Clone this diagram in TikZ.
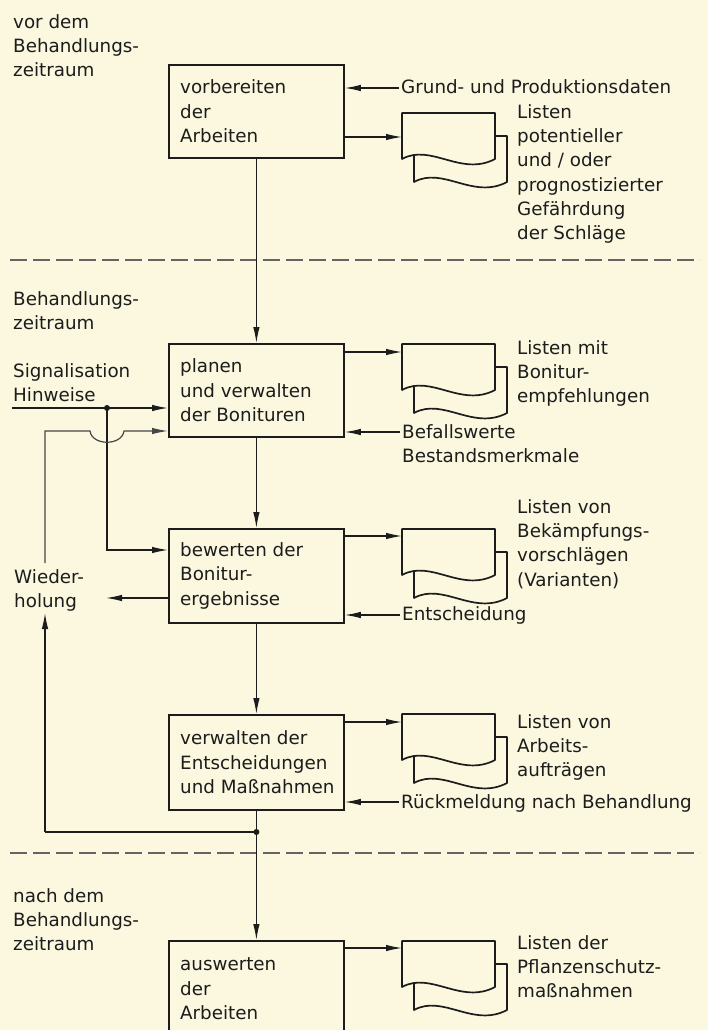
\documentclass[tikz,border=0pt]{standalone}
\usepackage{fontspec}
\setmainfont{DejaVu Sans}
\usetikzlibrary{arrows.meta}
\definecolor{bg}{RGB}{251,248,223}
\definecolor{ink}{RGB}{28,28,28}
\definecolor{inkl}{RGB}{70,70,70}
\definecolor{dashc}{RGB}{100,100,100}
\newcommand\diafont{\fontsize{18.3pt}{24.3pt}\selectfont}
\newcommand\docsym[2]{%
  \path[docsheet] (414,#2+23) -- (507,#2+23) -- (507,#2+69)
     .. controls (473,#2+87) and (443,#2+53) .. (414,#2+69) -- cycle;
  \path[docsheet] (402,#2) -- (495,#2) -- (495,#2+46)
     .. controls (461,#2+64) and (431,#2+30) .. (402,#2+46) -- cycle;
  \node[docnode] (#1) at (402,#2) {};
}
\begin{document}
\begin{tikzpicture}[x=1pt,y=-1pt,
  proc/.style={draw=ink, line width=1.8pt, minimum width=175pt, minimum height=93pt,
    inner sep=0pt, anchor=north west},
  lbl/.style={inner sep=0pt, align=left, font=\diafont, text=ink},
  conn/.style={draw=ink, line width=1.2pt},
  arr/.style={conn, -{Latex[length=16pt,width=6.5pt]}},
  sepline/.style={draw=dashc, line width=1.4pt, dash pattern=on 17pt off 6pt},
  docsheet/.style={draw=ink, line width=1.7pt, fill=bg, line join=round},
  docnode/.style={minimum width=93pt, minimum height=46pt, inner sep=0pt, outer sep=0pt, anchor=north west},
  dot/.style={circle, fill=ink, inner sep=0pt, minimum size=6pt}
]
\useasboundingbox (0,0) rectangle (708,1030);
\clip (0,0) rectangle (708,1030);
\fill[bg] (0,0) rectangle (708,1030);

% separators
\coordinate (s1a) at (10,260); \coordinate (s1b) at (700,260);
\coordinate (s2a) at (10,853); \coordinate (s2b) at (700,853);
\draw[sepline] (s1a) -- (s1b);
\draw[sepline] (s2a) -- (s2b);

% phase labels
\node[lbl, anchor=north west] (pvor) at (13,14) {vor dem\\Behandlungs-\\zeitraum};
\node[lbl, anchor=north west] (pbeh) at (13,291) {Behandlungs-\\zeitraum};
\node[lbl, anchor=north west] (pnach) at (13,888) {nach dem\\Behandlungs-\\zeitraum};

% boxes
\node[proc] (b1) at (168,64) {};
\node[proc] (b2) at (168,343) {};
\node[proc, minimum height=94pt] (b3) at (168,528) {};
\node[proc, minimum height=95pt] (b4) at (168,714) {};
\node[proc, minimum height=96pt] (b5) at (168,940) {};
\node[lbl, anchor=west] (b1t) at ([xshift=12pt]b1.west) {vorbereiten\\der\\Arbeiten};
\node[lbl, anchor=west] (b2t) at ([xshift=12pt]b2.west) {planen\\und verwalten\\der Bonituren};
\node[lbl, anchor=west] (b3t) at ([xshift=12pt]b3.west) {bewerten der\\Bonitur-\\ergebnisse};
\node[lbl, anchor=west] (b4t) at ([xshift=12pt]b4.west) {verwalten der\\Entscheidungen\\und Maßnahmen};
\node[lbl, anchor=west] (b5t) at ([xshift=12pt]b5.west) {auswerten\\der\\Arbeiten};

% documents
\docsym{d1}{113}
\docsym{d2}{344}
\docsym{d3}{529}
\docsym{d4}{714}
\docsym{d5}{941}

% document texts
\node[lbl, anchor=north west] (t1) at (517,104) {Listen\\potentieller\\und / oder\\prognostizierter\\Gefährdung\\der Schläge};
\node[lbl, anchor=north west] (t2) at (517,340) {Listen mit\\Bonitur-\\empfehlungen};
\node[lbl, anchor=north west] (t3) at (517,499) {Listen von\\Bekämpfungs-\\vorschlägen\\(Varianten)};
\node[lbl, anchor=north west] (t4) at (517,714) {Listen von\\Arbeits-\\aufträgen};
\node[lbl, anchor=north west] (t5) at (517,935) {Listen der\\Pflanzenschutz-\\maßnahmen};

% inputs
\node[lbl, anchor=base west] (grund) at (401,94) {Grund- und Produktionsdaten};
\node[lbl, anchor=north west] (bef) at (402,424) {Befallswerte\\Bestandsmerkmale};
\node[lbl, anchor=base west] (ent) at (402,620) {Entscheidung};
\node[lbl, anchor=base west] (rueck) at (401,808) {Rückmeldung nach Behandlung};
\node[lbl, anchor=north west] (sig) at (13,363) {Signalisation\\Hinweise};
\node[lbl, anchor=north west] (wied) at (14,569) {Wieder-\\holung};

% main flow
\draw[arr] (b1.south) -- (b2.north);
\draw[arr] (b2.south) -- (b3.north);
\draw[arr] (b3.south) -- (b4.north);
\node[dot] (j2) at (b4.south |- 0,832) {};
\draw[conn] (b4.south) -- (j2.center);
\draw[arr] (j2.center) -- (b5.north);

% outputs to documents
\draw[arr] (b1.east |- 0,137) -- (d1.west |- 0,137);
\draw[arr] (b2.east |- 0,352) -- (d2.west |- 0,352);
\draw[arr] (b3.east |- 0,536) -- (d3.west |- 0,536);
\draw[arr] (b4.east |- 0,722) -- (d4.west |- 0,722);
\draw[arr] (b5.east |- 0,948) -- (d5.west |- 0,948);

% inputs into boxes
\draw[arr] ([xshift=-2pt]grund.west |- 0,88) -- (b1.east |- 0,88);
\draw[arr] ([xshift=-2pt]bef.west |- 0,432) -- (b2.east |- 0,432);
\draw[arr] ([xshift=-2pt]ent.west |- 0,615) -- (b3.east |- 0,615);
\draw[arr] ([xshift=-2pt]rueck.west |- 0,802) -- (b4.east |- 0,802);

% signal line
\coordinate (sigstart) at (12,408);
\node[dot] (j1) at (107,408) {};
\draw[arr] (sigstart) -- (b2.west |- sigstart);
\coordinate (k1) at (b3.west |- 0,550);
\draw[arr] (j1.center) |- (k1);

% repetition output
\coordinate (wtip) at (106,598);
\draw[arr] (b3.west |- wtip) -- (wtip);

% feedback loop
\coordinate (fb0) at (45,832);
\coordinate (fbtip) at (45,613);
\coordinate (fb1) at (45,563);
\coordinate (fb2) at (45,431);
\coordinate (jl) at (90,431);
\coordinate (jr) at (124,431);
\coordinate (fbin) at (b2.west |- 0,431);
\draw[conn] (j2.center) -- (fb0);
\draw[arr] (fb0) -- (fbtip);
\draw[arr, draw=inkl] (fb1) -- (fb2) -- (jl) .. controls (92,446) and (122,446) .. (jr) -- (fbin);
\end{tikzpicture}
\end{document}
